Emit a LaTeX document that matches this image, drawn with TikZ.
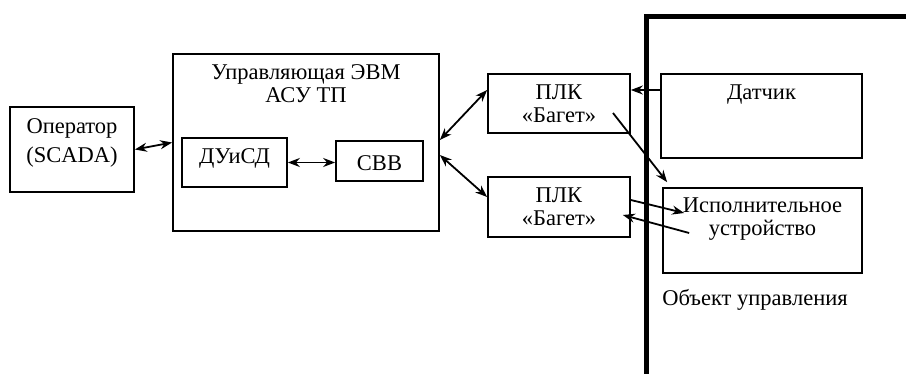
\documentclass[tikz,border=0pt]{standalone}
\usepackage{fontspec}
\setmainfont{Liberation Serif}
\usetikzlibrary{arrows.meta}
\begin{document}
\begin{tikzpicture}[x=1pt,y=-1pt,
  box/.style={draw,line width=1.7pt,rectangle,inner sep=0pt},
  txt/.style={font=\fontsize{22.5}{23}\selectfont,align=center,inner sep=0pt},
  conn/.style={line width=1.8pt,-{Stealth[length=12pt,width=9pt]}},
  bconn/.style={line width=1.8pt,{Stealth[length=12pt,width=9pt]}-{Stealth[length=12pt,width=9pt]}}]
\useasboundingbox (0,0) rectangle (906,374);
% boxes
\node[box,minimum width=124pt,minimum height=85pt] (op) at (72,149.5) {};
\node[txt,font=\fontsize{22.5}{29}\selectfont] (opt) at (72,142.5) {Оператор\\(SCADA)};
\node[box,minimum width=266pt,minimum height=177pt] (evm) at (306,142.5) {};
\node[txt] (evmt) at (306,84) {Управляющая ЭВМ\\АСУ ТП};
\node[box,minimum width=105pt,minimum height=49pt] (du) at (234.5,162.5) {};
\node[txt] (dut) at (234.5,158) {ДУиСД};
\node[box,minimum width=87pt,minimum height=40pt] (svv) at (379.5,161) {};
\node[txt] (svvt) at (379.5,163) {СВВ};
\node[box,minimum width=142pt,minimum height=59pt] (plc1) at (559,103.5) {};
\node[txt] (plc1t) at (559,104) {ПЛК\\«Багет»};
\node[box,minimum width=142pt,minimum height=60pt] (plc2) at (559,207) {};
\node[txt] (plc2t) at (559,207) {ПЛК\\«Багет»};
\node[box,minimum width=201pt,minimum height=84pt] (dat) at (761.5,116) {};
\node[txt] (datt) at (761.5,95) {Датчик};
\node[box,minimum width=199pt,minimum height=85pt] (isp) at (762.5,230.5) {};
\node[txt] (ispt) at (762.5,219) {Исполнительное\\устройство};
\node[txt] (obj) at (755,300) {Объект управления};
% boundary of control object
\coordinate (b1) at (646,374);
\coordinate (b2) at (646,17);
\coordinate (b3) at (906,17);
\draw[line width=5pt] (b1) -- (b2) -- (b3);
% connectors
\draw[bconn] (op.east) -- (evm.west);
\draw[bconn] (du.east) -- (svv.west |- du.east);
\draw[bconn] ([yshift=2.5pt]evm.east) -- ([yshift=13.5pt]plc1.west);
\draw[bconn] ([yshift=-12.5pt]evm.east) -- ([yshift=10pt]plc2.west);
\draw[conn] ([yshift=26pt]dat.west) -- ([yshift=13.5pt]plc1.east);
\draw[conn] ([shift={(54pt,-9.5pt)}]plc1.center) -- ([shift={(5pt,5pt)}]isp.north west);
\draw[conn] ([yshift=7pt]plc2.east) -- ([shift={(22pt,17.5pt)}]isp.west);
\draw[conn] ([shift={(27pt,-2.5pt)}]isp.west) -- ([shift={(-8pt,-8pt)}]plc2.east);
\end{tikzpicture}
\end{document}
